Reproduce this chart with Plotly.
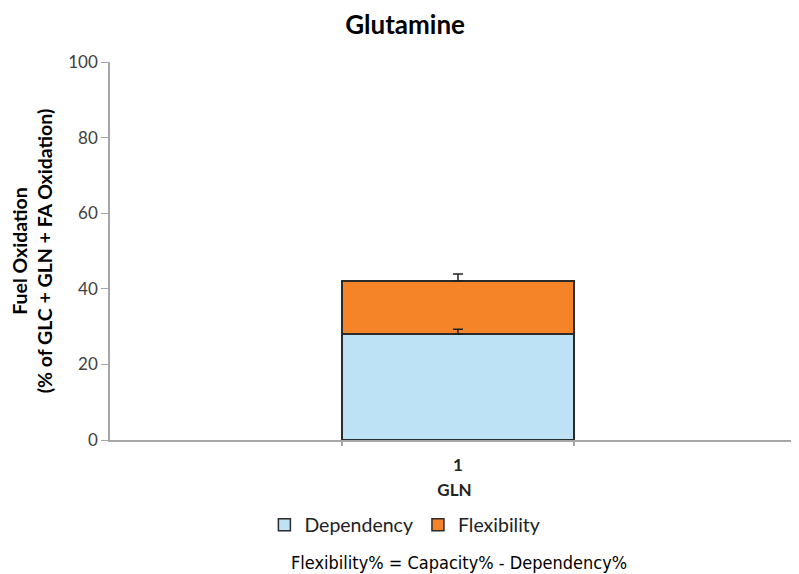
import plotly.graph_objects as go

categories = ["<b>1</b>"]
dependency = [28.0]
dependency_err = [1.3]
flexibility = [14.1]
flexibility_err = [1.8]
capacity = [d + f for d, f in zip(dependency, flexibility)]

font_main = "Lato"
outline = dict(color="#2b2b2b", width=1.5)
BAR_W = 1 / 3

fig = go.Figure()
fig.add_trace(go.Bar(
    x=categories, y=dependency, name="Dependency",
    marker=dict(color="#BDE2F6", line=outline), width=BAR_W,
))
fig.add_trace(go.Bar(
    x=categories, y=flexibility, name="Flexibility",
    marker=dict(color="#F58327", line=outline), width=BAR_W,
))
# error bars drawn on top of the stacked segments
for yy, err in [(dependency, dependency_err), (capacity, flexibility_err)]:
    fig.add_trace(go.Scatter(
        x=categories, y=yy, mode="markers", marker=dict(size=1, color="rgba(0,0,0,0)"),
        error_y=dict(type="data", array=err, arrayminus=[0]*len(err), symmetric=False,
                     color="#222222", thickness=1.5, width=5),
        showlegend=False, hoverinfo="skip",
    ))
# invisible helper trace so the overlay axis (tick marks at bar edges) is drawn
fig.add_trace(go.Scatter(x=[0], y=[0], xaxis="x2", mode="markers",
                         marker=dict(size=1, color="rgba(0,0,0,0)"),
                         showlegend=False, hoverinfo="skip"))

x_range = [-0.5, 0.49]

fig.update_layout(
    barmode="stack",
    width=791, height=566,
    margin=dict(l=102, r=0, t=54, b=134),
    plot_bgcolor="white", paper_bgcolor="white",
    font=dict(family=font_main, color="#404040", size=17),
    title=dict(text="<b>Glutamine</b>", x=0.502, xanchor="center", y=0.970, yanchor="middle",
               font=dict(size=26, color="#000000", family=font_main)),
    showlegend=True,
    legend=dict(orientation="h", x=0.428, xanchor="center", y=-0.225, yanchor="middle",
                font=dict(size=19.5, color="#222222", family=font_main), traceorder="normal",
                itemwidth=30),
    xaxis=dict(
        range=x_range, showline=True, linecolor="#A6A6A6", linewidth=1.5,
        ticks="", tickfont=dict(size=17, color="#222222"), ticklabelstandoff=9,
        title=dict(text="<b>GLN</b>", font=dict(size=17, color="#222222"), standoff=10),
    ),
    xaxis2=dict(
        overlaying="x", side="bottom", type="linear", range=x_range,
        tickvals=[-BAR_W / 2, BAR_W / 2], showticklabels=False,
        ticks="outside", ticklen=5, tickcolor="#A6A6A6", tickwidth=1.5,
        showline=False, showgrid=False, zeroline=False,
    ),
    yaxis=dict(
        range=[0, 100], dtick=20, showgrid=False, zeroline=False,
        showline=True, linecolor="#A6A6A6", linewidth=1.5,
        ticks="outside", tickcolor="#A6A6A6", ticklen=7,
        tickfont=dict(size=17, color="#404040"),
        title=dict(text="<b>Fuel Oxidation<br>(% of GLC + GLN + FA Oxidation)</b>",
                   font=dict(size=19.5, color="#000000"), standoff=10),
    ),
    annotations=[dict(
        text="Flexibility% = Capacity% - Dependency%",
        x=0.507, y=-0.325, xref="paper", yref="paper", xanchor="center", yanchor="middle",
        showarrow=False, font=dict(size=18, color="#000000",
                                   family="DejaVu Sans Condensed, Liberation Sans Narrow, sans-serif"),
    )],
)

fig.write_html("out.html")
